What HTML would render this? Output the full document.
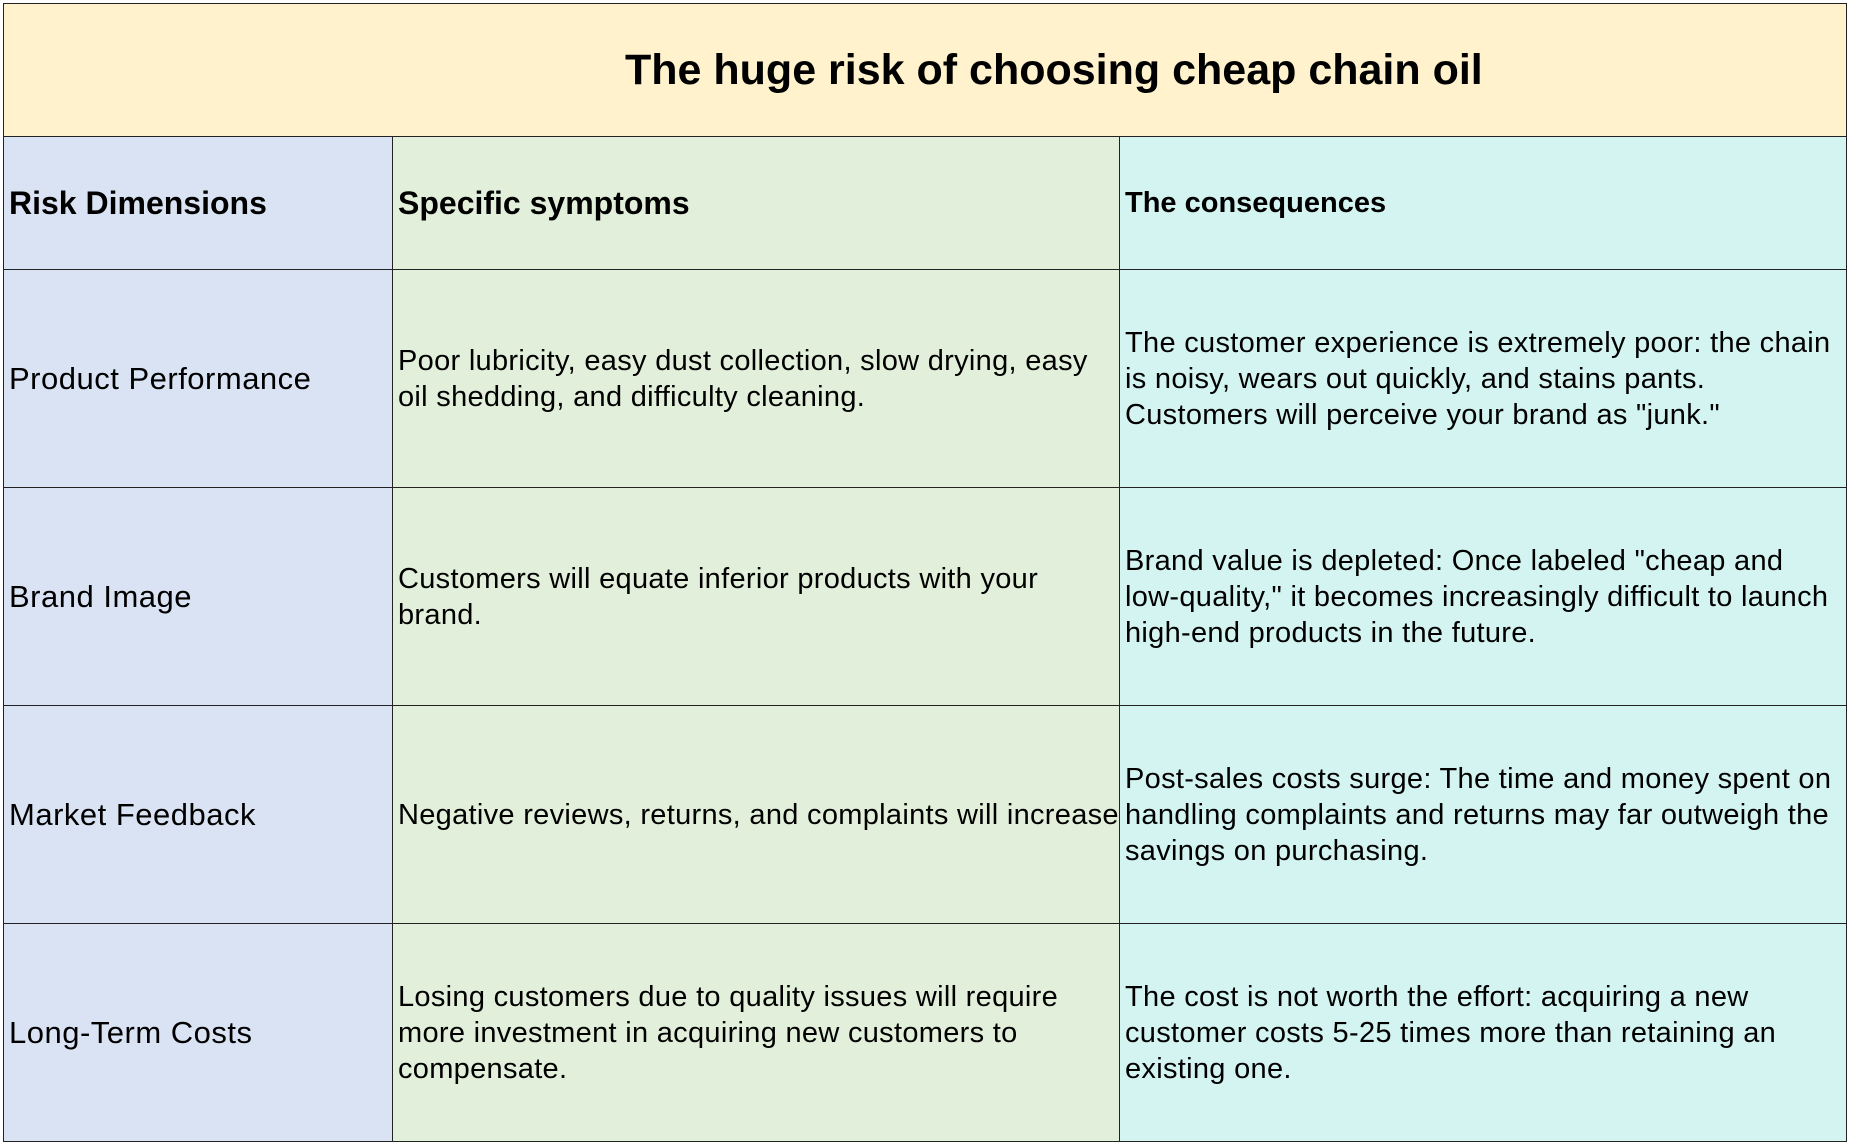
<!DOCTYPE html>
<html><head><meta charset="utf-8">
<style>
html,body{margin:0;padding:0;background:#fff;}
body{width:1849px;height:1145px;position:relative;overflow:hidden;font-family:"Liberation Sans",Arial,sans-serif;color:#000;}
.c{position:absolute;box-sizing:border-box;display:flex;align-items:center;border:1px solid #222;font-size:29px;letter-spacing:0.3px;line-height:36px;padding-left:5px;padding-right:2px;}
.h{font-weight:bold;font-size:32px;letter-spacing:0;}
.b{background:#DAE3F3;}
.g{background:#E2EFDA;}
.t{background:#D3F4F1;}
.k{font-size:31px;letter-spacing:0.5px;}
</style></head>
<body>
<div class="c" style="left:3px;top:3px;width:1844px;height:134px;background:#FFF2CC;font-weight:bold;font-size:43px;letter-spacing:0;padding-left:621px;">The huge risk of choosing cheap chain oil</div>

<div class="c h b" style="left:3px;top:136px;width:390px;height:134px;">Risk Dimensions</div>
<div class="c h g" style="left:392px;top:136px;width:728px;height:134px;">Specific symptoms</div>
<div class="c h t" style="left:1119px;top:136px;width:728px;height:134px;font-size:29px;">The consequences</div>

<div class="c b k" style="left:3px;top:269px;width:390px;height:219px;">Product Performance</div>
<div class="c g" style="left:392px;top:269px;width:728px;height:219px;">Poor lubricity, easy dust collection, slow drying, easy oil shedding, and difficulty cleaning.</div>
<div class="c t" style="left:1119px;top:269px;width:728px;height:219px;">The customer experience is extremely poor: the chain is noisy, wears out quickly, and stains pants. Customers will perceive your brand as "junk."</div>

<div class="c b k" style="left:3px;top:487px;width:390px;height:219px;">Brand Image</div>
<div class="c g" style="left:392px;top:487px;width:728px;height:219px;">Customers will equate inferior products with your brand.</div>
<div class="c t" style="left:1119px;top:487px;width:728px;height:219px;">Brand value is depleted: Once labeled "cheap and low-quality," it becomes increasingly difficult to launch high-end products in the future.</div>

<div class="c b k" style="left:3px;top:705px;width:390px;height:219px;">Market Feedback</div>
<div class="c g" style="left:392px;top:705px;width:728px;height:219px;padding-right:0;white-space:nowrap;">Negative reviews, returns, and complaints will increase.</div>
<div class="c t" style="left:1119px;top:705px;width:728px;height:219px;">Post-sales costs surge: The time and money spent on handling complaints and returns may far outweigh the savings on purchasing.</div>

<div class="c b k" style="left:3px;top:923px;width:390px;height:219px;">Long-Term Costs</div>
<div class="c g" style="left:392px;top:923px;width:728px;height:219px;">Losing customers due to quality issues will require more investment in acquiring new customers to compensate.</div>
<div class="c t" style="left:1119px;top:923px;width:728px;height:219px;">The cost is not worth the effort: acquiring a new customer costs 5-25 times more than retaining an existing one.</div>
</body></html>
